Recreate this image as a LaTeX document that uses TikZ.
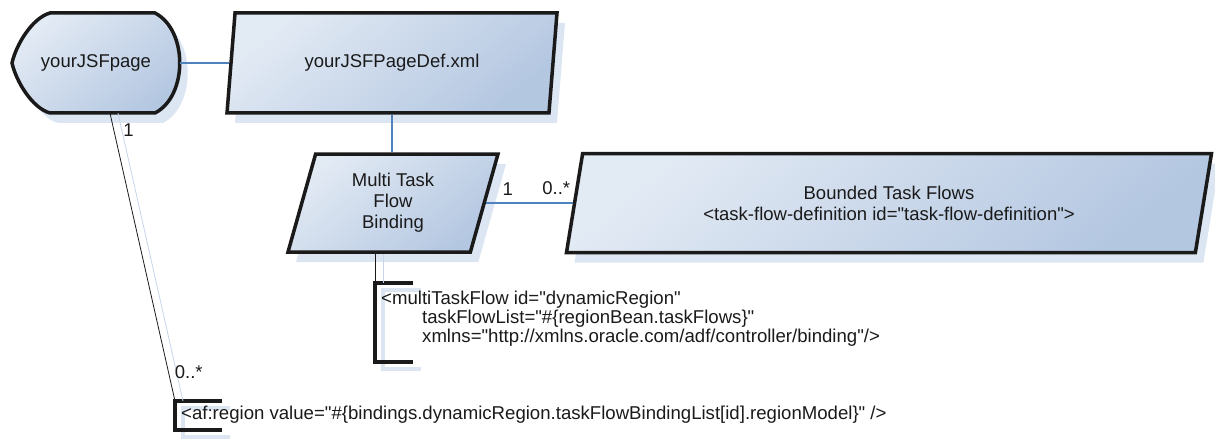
\documentclass[tikz,border=0pt]{standalone}
\usepackage{fontspec}
\setmainfont{Liberation Sans}[Ligatures=TeXOff]
\usepackage{xcolor}
\usetikzlibrary{shapes.geometric,shadows,calc}
\definecolor{Ink}{HTML}{1A1A1A}
\definecolor{Wire}{HTML}{4F81BD}
\definecolor{Haze}{HTML}{DCE6F2}
\definecolor{HazeLine}{HTML}{C6D5EA}
\definecolor{FillA}{HTML}{E2EAF4}
\definecolor{FillB}{HTML}{B4C7E1}

\tikzset{
  label font/.style={font=\fontsize{18.5}{21}\selectfont},
  artefact/.style={draw=Ink, line width=3.5pt, top color=FillA, bottom color=FillB, shading angle=40, text=Ink, label font},
  datasheet/.style={artefact, trapezium, trapezium left angle=65, trapezium right angle=115, trapezium stretches body, inner sep=0pt, align=center,
    drop shadow={shadow xshift=8pt, shadow yshift=-10pt, fill=Haze, opacity=1}},
  wire/.style={draw=Wire, line width=2pt},
  tie/.style={draw=Ink, line width=0.8pt, preaction={draw=HazeLine, line width=0.8pt, transform canvas={xshift=8pt}}},
  bracket/.style={draw=Ink, line width=4pt, preaction={draw=Haze, line width=4pt, transform canvas={shift={(8pt,-7pt)}}}},
  code/.style={text=Ink, align=left, anchor=west, inner sep=0pt, font=\fontsize{18.6}{19}\selectfont},
  mult/.style={text=Ink, inner sep=0pt, label font},
}

\begin{document}
\begin{tikzpicture}[x=1pt, y=-1pt]
  \useasboundingbox (0,0) rectangle (1215,441);

  % the page
  \path[fill=Haze, shift={(8,10)}] (50,13) -- (155,13) .. controls (188,30) and (188,96) .. (155,113) -- (50,113)
    .. controls (32,108) and (16,81) .. (12,63) .. controls (16,45) and (32,18) .. (50,13) -- cycle;
  \path[artefact] (50,13) -- (155,13) .. controls (188,30) and (188,96) .. (155,113) -- (50,113)
    .. controls (32,108) and (16,81) .. (12,63) .. controls (16,45) and (32,18) .. (50,13) -- cycle;
  \node[text=Ink, label font, minimum width=168pt, minimum height=100pt, inner sep=0pt] (page) at (96,63) {yourJSFpage};

  % bindings and flows
  \node[datasheet, minimum width=330pt, minimum height=100pt] (def) at (392,63) {yourJSFPageDef.xml};
  \node[datasheet, minimum width=210pt, minimum height=98pt] (mtf) at (393,203) {Multi Task\\Flow\\Binding};
  \node[datasheet, minimum width=645pt, minimum height=99pt] (flows) at (889,203)
    {Bounded Task Flows\\<task-flow-definition id="task-flow-definition">};

  \draw[wire] (page.east) -- (def.left side);
  \draw[wire] (def.south) -- (def.south |- mtf.north);
  \draw[wire] (mtf.right side) -- (flows.left side)
    node[mult, pos=0.25, above=7pt] {1}
    node[mult, pos=0.81, above=7pt] {0..*};

  % annotations
  \coordinate (mtfbr) at (375,283);
  \draw[bracket] ($(mtfbr)+(38,0)$) -| ($(mtfbr)+(0,79)$) -- ++(38,0);
  \draw[tie] (mtfbr |- mtf.south) -- (mtfbr);
  \node[code] (mtfcode) at ($(mtfbr)+(6,35.5)$) {<multiTaskFlow id="dynamicRegion"\\
    \hspace*{41pt}taskFlowList="\#\{regionBean.taskFlows\}"\\
    \hspace*{41pt}xmlns="http://xmlns.oracle.com/adf/controller/binding"/>};

  \coordinate (regbr) at (175,401);
  \draw[bracket] ($(regbr)+(47,0)$) -| ($(regbr)+(0,29)$) -- ++(47,0);
  \draw[tie] ($(page.south)+(14,0)$) -- (regbr)
    node[mult, pos=0.06, right=9pt] {1}
    node[mult, pos=0.90, right=6pt] {0..*};
  \node[code] (region) at ($(regbr)+(6,14)$) {<af:region value="\#\{bindings.dynamicRegion.taskFlowBindingList[id].regionModel\}" />};
\end{tikzpicture}
\end{document}
